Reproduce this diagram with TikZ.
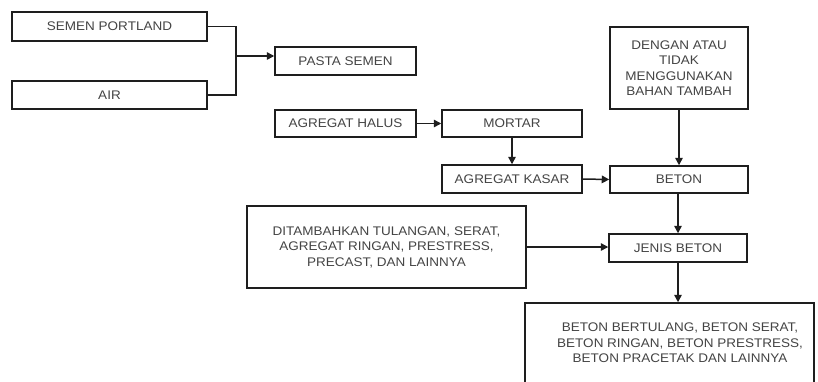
\documentclass[tikz,border=0pt]{standalone}
\usepackage{fontspec}
\setmainfont{Liberation Sans}[FakeStretch=1.08]
\usetikzlibrary{arrows.meta}
\definecolor{txt}{HTML}{444444}
\definecolor{ln}{HTML}{1E1E1E}
\tikzset{
  box/.style={draw=ln, line width=1.5pt, rectangle, inner sep=0pt, align=center,
    text=txt, font=\fontsize{12.5}{15.5}\selectfont},
  conn/.style={draw=ln, line width=1.5pt},
  arr/.style={conn, -{Triangle[length=7.5pt,width=7.5pt]}},
  lbl/.style={inner sep=0pt, align=center, text=txt, font=\fontsize{12.5}{15.5}\selectfont}
}
\begin{document}
\begin{tikzpicture}[x=1pt,y=-1pt]
\useasboundingbox (0,0) rectangle (818,381);
\clip (0,0) rectangle (818,381);
\fill[white] (0,0) rectangle (818,381);
\node[box, minimum width=195pt, minimum height=29pt] (sp) at (109.5,26.5) {SEMEN PORTLAND};
\node[box, minimum width=195pt, minimum height=28pt] (air) at (109.5,95) {AIR};
\node[box, minimum width=141pt, minimum height=28pt] (pasta) at (345.5,61) {PASTA SEMEN};
\node[box, minimum width=141pt, minimum height=27pt] (halus) at (345.5,123.5) {AGREGAT HALUS};
\node[box, minimum width=140pt, minimum height=27pt] (mortar) at (512,123.5) {MORTAR};
\node[box, minimum width=140pt, minimum height=28pt] (kasar) at (512,179) {AGREGAT KASAR};
\node[box, minimum width=138pt, minimum height=27pt] (beton) at (679,179.5) {BETON};
\node[box, minimum width=138pt, minimum height=82pt] (dengan) at (679,68) {DENGAN ATAU\\TIDAK\\MENGGUNAKAN\\BAHAN TAMBAH};
\node[box, minimum width=138pt, minimum height=28pt] (jenis) at (678,248) {JENIS BETON};
\node[box, minimum width=279pt, minimum height=82pt] (tamb) at (386.5,247) {DITAMBAHKAN TULANGAN, SERAT,\\AGREGAT RINGAN, PRESTRESS,\\PRECAST, DAN LAINNYA};
\node[box, minimum width=289pt, minimum height=117pt] (final) at (669.5,361.5) {};
\node[lbl] (finaltxt) at (680,343) {BETON BERTULANG, BETON SERAT,\\BETON RINGAN, BETON PRESTRESS,\\BETON PRACETAK DAN LAINNYA};
\coordinate (j) at (236,56);
\draw[conn] (sp.east) -| (j);
\draw[conn] (air.east) -| (j);
\draw[arr] (j) -- (j -| pasta.west);
\draw[arr] (halus.east) -- (mortar.west);
\draw[arr] (mortar.south) -- (kasar.north);
\draw[arr] (kasar.east) -- (beton.west);
\draw[arr] (dengan.south) -- (beton.north);
\draw[arr] (beton.south -| jenis.north) -- (jenis.north);
\draw[arr] (tamb.east) -- (tamb.east -| jenis.west);
\draw[arr] (jenis.south) -- (jenis.south |- final.north);
\end{tikzpicture}
\end{document}
